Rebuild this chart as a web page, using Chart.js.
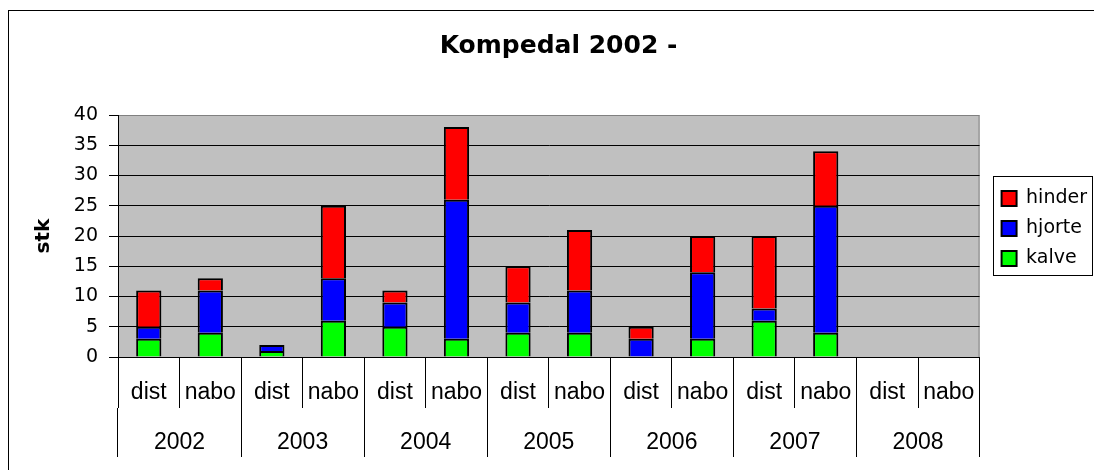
<!DOCTYPE html>
<html>
<head>
<meta charset="utf-8">
<title>Kompedal 2002 -</title>
<script src="https://cdn.jsdelivr.net/npm/chart.js@4.4.1/dist/chart.umd.min.js"></script>
<style>
  html, body { margin: 0; padding: 0; background: #fff; overflow: hidden; }
  #frame { position: absolute; left: 8px; top: 10px; width: 1200px; height: 600px; border: 1px solid #000; }
  #chart { position: absolute; left: 0; top: 0; }
</style>
</head>
<body>
<div id="frame"></div>
<canvas id="chart" width="1094" height="470"></canvas>
<script>
// Data: two bars (dist / nabo) per year
const YEARS = ['2002', '2003', '2004', '2005', '2006', '2007', '2008'];
const GROUPS = ['dist', 'nabo'];
const CATEGORIES = YEARS.flatMap(() => GROUPS);

const KALVE  = [3, 4,  1, 6,  5, 3,  4, 4,  0, 3,  6, 4,  0, 0];
const HJORTE = [2, 7,  1, 7,  4, 23, 5, 7,  3, 11, 2, 21, 0, 0];
const HINDER = [6, 2,  0, 12, 2, 12, 6, 10, 2, 6,  12, 9, 0, 0];

const Y_MIN = 0;
const Y_MAX = 40;
const Y_STEP = 5;

// Grey plot area with a grey frame (Excel style)
const plotBackground = {
    id: 'plotBackground',
    beforeDraw(chart) {
        const {ctx, chartArea: a} = chart;
        ctx.save();
        ctx.fillStyle = '#c0c0c0';
        ctx.fillRect(a.left, a.top, a.right - a.left, a.bottom - a.top);
        ctx.strokeStyle = '#808080';
        ctx.lineWidth = 1;
        ctx.beginPath();
        ctx.moveTo(a.left, a.top + 0.5);
        ctx.lineTo(a.right - 0.5, a.top + 0.5);
        ctx.lineTo(a.right - 0.5, a.bottom);
        ctx.stroke();
        ctx.restore();
    }
};

// Box round the legend
const legendFrame = {
    id: 'legendFrame',
    afterDraw(chart) {
        const boxes = chart.legend && chart.legend.legendHitBoxes;
        if (!boxes || !boxes.length) return;
        const left = Math.min(...boxes.map(b => b.left)) - 9;
        const top = Math.min(...boxes.map(b => b.top)) - 13;
        const right = Math.max(...boxes.map(b => b.left + b.width)) + 5;
        const bottom = Math.max(...boxes.map(b => b.top + b.height)) + 7;
        const ctx = chart.ctx;
        ctx.save();
        ctx.strokeStyle = '#000';
        ctx.lineWidth = 1;
        ctx.strokeRect(Math.round(left) + 0.5, Math.round(top) + 0.5,
            Math.round(right - left), Math.round(bottom - top));
        ctx.restore();
    }
};

function barSeries(label, data, color) {
    return {
        label,
        data,
        backgroundColor: color,
        borderColor: '#000000',
        borderWidth: 2,
        borderSkipped: 'start',
        barPercentage: 0.41,
        categoryPercentage: 1
    };
}

const ctx = document.getElementById('chart').getContext('2d');

new Chart(ctx, {
    type: 'bar',
    data: {
        labels: CATEGORIES,
        datasets: [
            barSeries('kalve', KALVE, '#00ff00'),
            barSeries('hjorte', HJORTE, '#0000ff'),
            barSeries('hinder', HINDER, '#ff0000')
        ]
    },
    options: {
        responsive: false,
        animation: false,
        layout: {
            padding: { left: 20, right: -3, top: 0, bottom: 13 }
        },
        scales: {
            x: {
                stacked: true,
                offset: true,
                grid: {
                    offset: true,
                    drawOnChartArea: false,
                    tickLength: 51,
                    color: '#000'
                },
                border: { display: true, color: '#000' },
                ticks: {
                    color: '#000',
                    font: { family: 'Liberation Sans', size: 23 },
                    padding: -29,
                    maxRotation: 0,
                    autoSkip: false
                },
                afterFit: scale => { scale.height = 51; }
            },
            x2: {
                type: 'category',
                labels: YEARS,
                position: 'bottom',
                offset: true,
                grid: {
                    offset: true,
                    drawOnChartArea: false,
                    tickLength: 49,
                    color: '#000'
                },
                border: { display: false },
                ticks: {
                    color: '#000',
                    font: { family: 'Liberation Sans', size: 23 },
                    padding: -28,
                    maxRotation: 0,
                    autoSkip: false
                },
                afterFit: scale => { scale.height = 49; }
            },
            y: {
                stacked: true,
                min: Y_MIN,
                max: Y_MAX,
                ticks: {
                    stepSize: Y_STEP,
                    color: '#000',
                    font: { family: 'DejaVu Sans', size: 19 },
                    padding: 11
                },
                grid: {
                    color: c => (c.tick && c.tick.value === Y_MAX ? '#808080' : '#000'),
                    tickColor: '#000',
                    tickLength: 9
                },
                border: { display: true, color: '#000' },
                title: {
                    display: true,
                    text: 'stk',
                    color: '#000',
                    font: { family: 'DejaVu Sans', size: 20, weight: 'bold' },
                    padding: { top: 12, bottom: 0 }
                },
                afterFit: scale => { scale.width = 98; }
            },
            spacer: {
                type: 'linear',
                position: 'right',
                grid: { display: false },
                border: { display: false },
                ticks: { display: false },
                afterFit: scale => { scale.width = 11; }
            }
        },
        plugins: {
            title: {
                display: true,
                text: 'Kompedal 2002 -',
                color: '#000',
                font: { family: 'DejaVu Sans', size: 25, weight: 'bold' },
                padding: { top: 31, bottom: 54 }
            },
            legend: {
                position: 'right',
                reverse: true,
                labels: {
                    color: '#000',
                    font: { family: 'DejaVu Sans', size: 19 },
                    boxWidth: 15,
                    boxHeight: 15,
                    padding: 11
                }
            },
            tooltip: { enabled: false }
        }
    },
    plugins: [plotBackground, legendFrame]
});
</script>
</body>
</html>
